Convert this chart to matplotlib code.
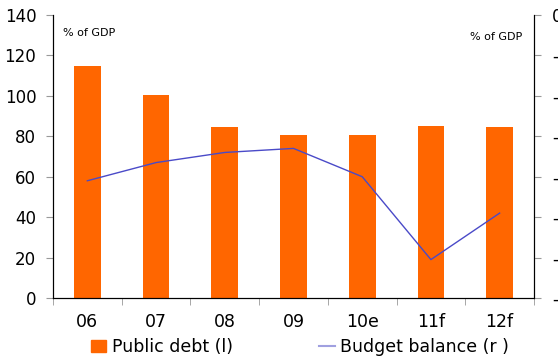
import numpy as np
import matplotlib
matplotlib.use('Agg')
import matplotlib.pyplot as plt
from matplotlib.patches import Patch
from matplotlib.lines import Line2D

plt.rcParams.update({'font.size': 12, 'font.family': 'DejaVu Sans',
                     'axes.unicode_minus': False})

years = ['06', '07', '08', '09', '10e', '11f', '12f']
public_debt = [114.8, 100.6, 84.8, 80.6, 80.8, 85.2, 84.4]
budget_balance = [-8.2, -7.3, -6.8, -6.6, -8.0, -12.1, -9.8]

bar_color = '#ff6600'
line_color = '#4a4ac8'

fig = plt.figure(figsize=(5.58, 3.58), dpi=100)
ax = fig.add_axes([53 / 558, 60 / 358, 481 / 558, 283 / 358])
x = np.arange(len(years))

ax.bar(x, public_debt, width=0.39, color=bar_color, zorder=2)
ax.set_xlim(-0.5, len(years) - 0.5)
ax.set_ylim(0, 140)
ax.set_yticks(range(0, 141, 20))
ax.set_xticks(x)
ax.set_xticklabels(years, fontsize=12.5)
ax.set_xticks(np.arange(-0.5, len(years)), minor=True)
ax.tick_params(axis='x', which='major', length=0, pad=11)
ax.tick_params(axis='x', which='minor', length=5, color='#999999', direction='out')
ax.tick_params(axis='y', length=5, color='#999999', pad=7)
ax.spines['top'].set_visible(False)

# right axis labels run off the edge, as in the source chart
ax2 = ax.twinx()
ax2.plot(x, budget_balance, color=line_color, lw=1.0, zorder=3)
ax2.set_ylim(-14, 0)
ax2.set_yticks(range(-14, 1, 2))
ax2.tick_params(axis='y', length=5, color='#999999', pad=8)
ax2.spines['top'].set_visible(False)

fig.text(63 / 558, 1 - 33 / 358, '% of GDP', fontsize=8, va='center', ha='left')
fig.text(522 / 558, 1 - 37 / 358, '% of GDP', fontsize=8, va='center', ha='right')

handles = [Patch(color=bar_color), Line2D([], [], color='#a0a0e0', lw=1.5)]
fig.legend(handles, ['Public debt (l)', 'Budget balance (r )'], loc='center',
           bbox_to_anchor=(300 / 558, 1 - 347 / 358), ncol=2, frameon=False,
           fontsize=12.5, handlelength=0.9, handletextpad=0.3, columnspacing=5.0,
           borderaxespad=0, borderpad=0)

fig.savefig('out.png', dpi=100)
